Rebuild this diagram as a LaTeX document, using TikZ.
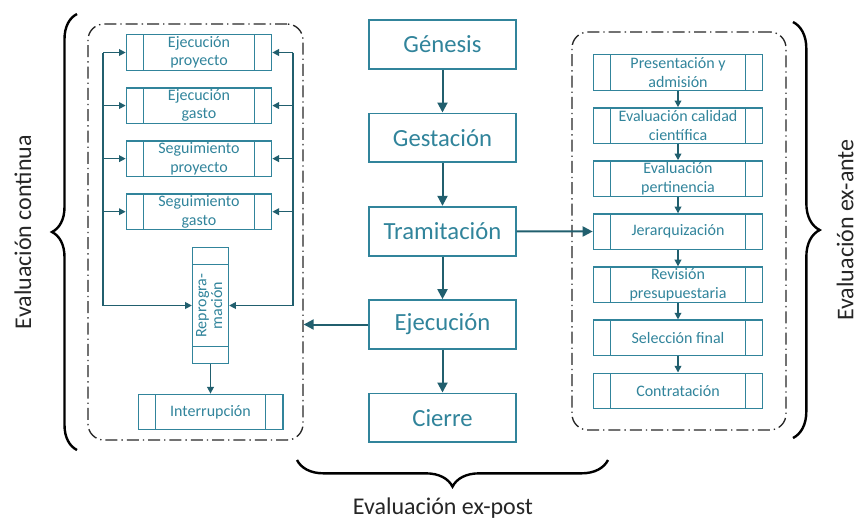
\documentclass[tikz,border=0pt]{standalone}
\usepackage{fontspec}
\setmainfont{Carlito}
\usetikzlibrary{positioning, arrows.meta, decorations.pathreplacing, calc}
\definecolor{boxteal}{HTML}{31849B}
\definecolor{arrteal}{HTML}{215F6E}
\tikzset{
    stage/.style = {draw=boxteal, line width=1.3pt, text=boxteal, minimum width=110pt, minimum height=36.7pt, inner sep=0pt, font=\fontsize{18.5}{21}\selectfont},
    proc/.style = {draw=boxteal, line width=1pt, text=boxteal, minimum height=26.6pt, inner sep=0pt, align=center, font=\fontsize{12}{13.8}\selectfont,
                   path picture={\draw[boxteal, line width=1pt]
                       ([xshift=13pt]path picture bounding box.north west) -- ([xshift=13pt]path picture bounding box.south west)
                       ([xshift=-13pt]path picture bounding box.north east) -- ([xshift=-13pt]path picture bounding box.south east);}},
    vproc/.style = {draw=boxteal, line width=1pt, text=boxteal, minimum width=27pt, minimum height=87pt, inner sep=0pt, font=\fontsize{12}{13.8}\selectfont,
                   path picture={\draw[boxteal, line width=1pt]
                       ([yshift=-12.75pt]path picture bounding box.north west) -- ([yshift=-12.75pt]path picture bounding box.north east)
                       ([yshift=12.75pt]path picture bounding box.south west) -- ([yshift=12.75pt]path picture bounding box.south east);}},
    evalframe/.style = {draw=black!85, line width=1pt, rounded corners=12pt, dash pattern=on 9pt off 3pt on 1pt off 3pt},
    arr/.style = {draw=arrteal, line width=1.5pt, -{Triangle[length=7.5pt,width=7.5pt]}},
    sarr/.style = {draw=arrteal, line width=1.1pt, -{Triangle[length=5pt,width=5pt]}},
    bracket/.style = {draw=black, decorate, decoration={brace, amplitude=#1}, line width=1.8pt},
    evallabel/.style = {text=black!85, inner sep=0pt, font=\fontsize{18}{21}\selectfont}
}

\begin{document}
\begin{tikzpicture}[x=0.75pt, y=-0.75pt]
    \useasboundingbox (0,0) rectangle (860,522);
    \def\stagesep{32pt}
    \def\procsep{12.2pt}

    % central column
    \node (genesis) [stage] at (442.5,44.5) {Génesis};
    \node (gestacion) [stage,below=\stagesep of genesis] {Gestación};
    \node (tramitacion) [stage,below=\stagesep of gestacion] {Tramitación};
    \node (ejecucion) [stage,below=\stagesep of tramitacion] {Ejecución};
    \node (cierre) [stage,below=\stagesep of ejecucion] {Cierre};
    \foreach \a/\b in {genesis/gestacion, gestacion/tramitacion, tramitacion/ejecucion, ejecucion/cierre}
        \draw[arr] (\a) -- (\b);

    % left block
    \node (leftframe) [evalframe, minimum width=161.25pt, minimum height=312pt] at (195.5,232) {};
    \node (ejproy) [proc, minimum width=109pt] at (199,52.5) {Ejecución\\proyecto};
    \node (ejgasto) [proc, minimum width=109pt, below=\procsep of ejproy] {Ejecución\\gasto};
    \node (segproy) [proc, minimum width=109pt, below=\procsep of ejgasto] {Seguimiento\\proyecto};
    \node (seggasto) [proc, minimum width=109pt, below=\procsep of segproy] {Seguimiento\\gasto};
    \node (reprog) [vproc] at (210.5,305.5) {\rotatebox{90}{\begin{tabular}{@{}c@{}}Reprogra-\\[-2pt]mación\end{tabular}}};
    \node (interr) [proc, minimum width=108.5pt] at (210.5,412) {Interrupción};

    \coordinate (bustopl) at (103,52.5);
    \coordinate (busbotl) at (103,305.5);
    \coordinate (bustopr) at (293,52.5);
    \coordinate (busbotr) at (293,305.5);
    \draw[sarr] (bustopl) -- (busbotl) -- (reprog);
    \draw[sarr] (bustopr) -- (busbotr) -- (reprog);
    \foreach \n in {ejproy, ejgasto, segproy, seggasto} {
        \draw[sarr] (bustopl |- \n) -- (\n);
        \draw[sarr] (bustopr |- \n) -- (\n);
    }
    \draw[sarr] (reprog) -- (interr);

    \coordinate (contin) at (leftframe.east |- ejecucion);
    \draw[arr] (ejecucion) -- (contin);

    % right block
    \node (rightframe) [evalframe, minimum width=160.5pt, minimum height=298.5pt] at (679,231) {};
    \node (presadm) [proc, minimum width=127pt] at (678,72.5) {Presentación y\\admisión};
    \node (evcal) [proc, minimum width=127pt, below=\procsep of presadm] {Evaluación calidad\\científica};
    \node (evpert) [proc, minimum width=127pt, below=\procsep of evcal] {Evaluación\\pertinencia};
    \node (jerarq) [proc, minimum width=127pt, below=\procsep of evpert] {Jerarquización};
    \node (revpres) [proc, minimum width=127pt, below=\procsep of jerarq] {Revisión\\presupuestaria};
    \node (selfin) [proc, minimum width=127pt, below=\procsep of revpres] {Selección final};
    \node (contrat) [proc, minimum width=127pt, below=\procsep of selfin] {Contratación};
    \foreach \a/\b in {presadm/evcal, evcal/evpert, evpert/jerarq, jerarq/revpres, revpres/selfin, selfin/contrat}
        \draw[sarr] (\a) -- (\b);

    \draw[arr] (tramitacion) -- (jerarq);

    % braces and labels
    \draw[bracket=18.75pt] (77,450) -- (77,14);
    \draw[bracket=20pt] (793,22) -- (793,438);
    \draw[bracket=20pt] (608,460) -- (297,460);
    \node (continua) [evallabel, rotate=90] at (23,232) {Evaluación continua};
    \node (exante) [evallabel, rotate=90] at (845,230) {Evaluación ex-ante};
    \node (expost) [evallabel] at (443,508) {Evaluación ex-post};
\end{tikzpicture}
\end{document}
